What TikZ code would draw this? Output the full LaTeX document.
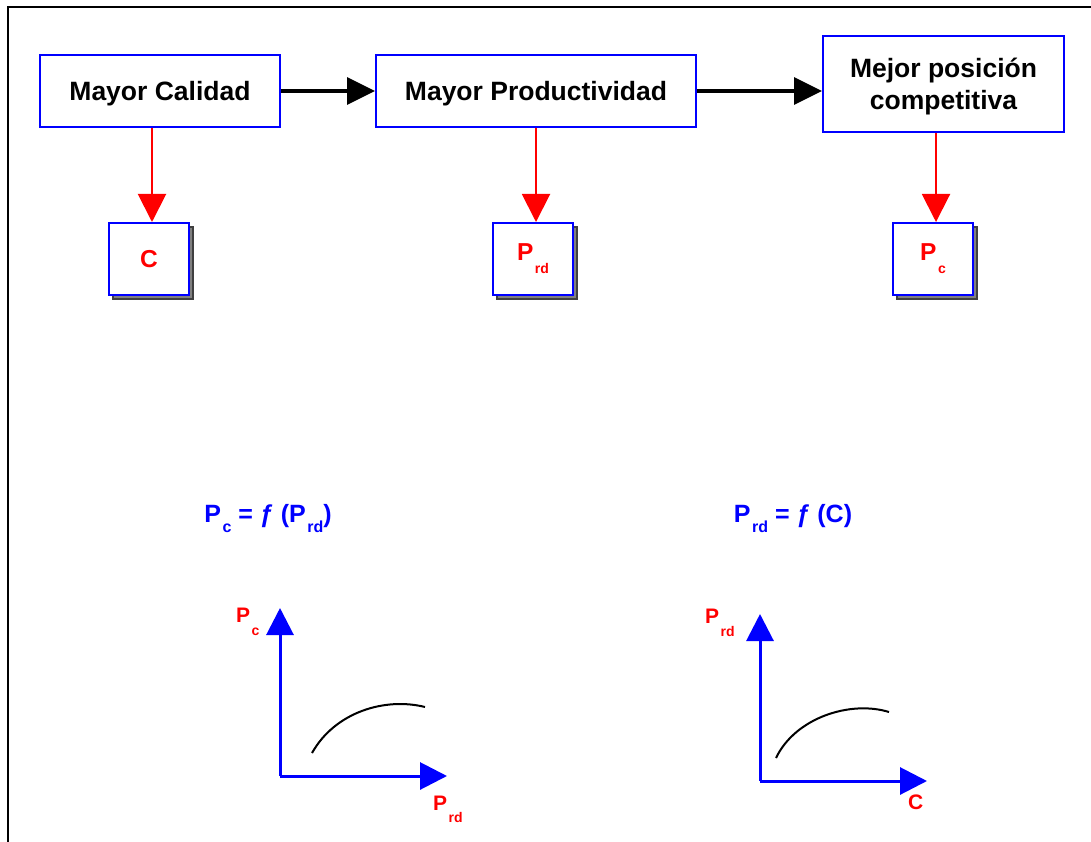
\documentclass[tikz,border=0pt]{standalone}
\usepackage{fontspec}
\setmainfont{Liberation Sans}
\usetikzlibrary{arrows.meta,shadows}
\newcommand{\lowsub}[3]{\kern1.5pt\raisebox{-#1pt}{\fontsize{#2}{#2}\selectfont #3}}

\begin{document}
\begin{tikzpicture}[x=1pt,y=-1pt,
	bigbox/.style={draw=blue, line width=2pt, fill=white, inner sep=0pt, align=center,
		font=\fontsize{26.5}{32}\selectfont\bfseries},
	smallbox/.style={draw=blue, line width=2pt, fill=white, inner sep=0pt,
		minimum width=80pt, minimum height=72pt, text=red,
		font=\fontsize{24.5}{24}\selectfont\bfseries,
		drop shadow={shadow xshift=4pt, shadow yshift=-4pt, fill=black!50, draw=black!75, opacity=1}},
	flow/.style={line width=3.5pt, -{Triangle[length=28pt,width=27pt]}},
	down/.style={red, line width=2pt, -{Triangle[length=28pt,width=28pt]}},
	axis/.style={blue, line width=3pt, -{Triangle[length=27pt,width=27pt]}},
	curve/.style={line width=2pt},
	formula/.style={blue, anchor=base, inner sep=0pt, font=\fontsize{25}{25}\selectfont\bfseries},
	axlabel/.style={red, anchor=base west, inner sep=0pt, font=\fontsize{21}{21}\selectfont\bfseries}]
	\useasboundingbox (0,0) rectangle (1091,842);
	% frame
	\draw[line width=2pt] (8,842) -- (8,7) -- (1091,7);

	% top row
	\node[bigbox, minimum width=240pt, minimum height=72pt, text height=18.5pt, text depth=0pt] (calidad) at (160,91) {Mayor Calidad};
	\node[bigbox, minimum width=320pt, minimum height=72pt, text height=18.5pt, text depth=0pt] (product) at (536,91) {Mayor Productividad};
	\node[bigbox, minimum width=241pt, minimum height=96pt, text height=50.5pt, text depth=0pt] (posicion) at (943.5,84) {Mejor posición\\competitiva};
	\draw[flow] (calidad) -- (product);
	\draw[flow] (product.east) -- (product.east -| posicion.west);

	% variables
	\node[smallbox] (cc) at (149,259) {C};
	\node[smallbox] (prd) at (533,259) {P\lowsub{13}{14}{rd}};
	\node[smallbox] (pc) at (933,259) {P\lowsub{13}{14}{c}};
	\draw[down] ([xshift=3pt]calidad.south -| cc.north) -- ([xshift=3pt]cc.north);
	\draw[down] ([xshift=3pt]product.south -| prd.north) -- ([xshift=3pt]prd.north);
	\draw[down] ([xshift=3pt]posicion.south -| pc.north) -- ([xshift=3pt]pc.north);

	% relations
	\node[formula] (fpc) at (268,522) {P\lowsub{10}{16}{c} = ƒ (P\lowsub{10}{16}{rd})};
	\node[formula] (fprd) at (793,522) {P\lowsub{10}{16}{rd} = ƒ (C)};

	% left graph
	\coordinate (o1) at (280,776);
	\coordinate (y1) at (280,608);
	\coordinate (x1) at (447,776);
	\draw[axis] (o1) -- (y1);
	\draw[axis] (o1) -- (x1);
	\draw[curve] (312,753) .. controls (335,712) and (385,697) .. (425,707);
	\node[axlabel] (lpc) at (236,622) {P\lowsub{13}{14}{c}};
	\node[axlabel] (lprd) at (433,810) {P\lowsub{12}{14}{rd}};

	% right graph
	\coordinate (o2) at (760,781);
	\coordinate (y2) at (760,614);
	\coordinate (x2) at (927,781);
	\draw[axis] (o2) -- (y2);
	\draw[axis] (o2) -- (x2);
	\draw[curve] (776,758) .. controls (795,718) and (850,700) .. (889,712);
	\node[axlabel] (lprd2) at (705,623) {P\lowsub{13}{14}{rd}};
	\node[axlabel] (lc) at (908,809) {C};
\end{tikzpicture}
\end{document}
